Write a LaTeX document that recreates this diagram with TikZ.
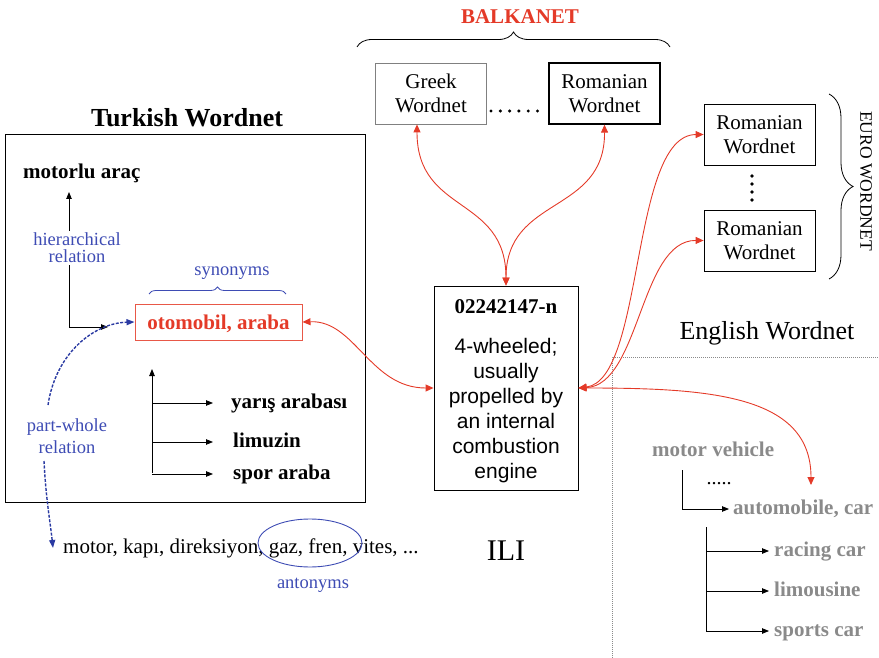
\documentclass[tikz,border=0pt]{standalone}
\usepackage{fontspec}
\setmainfont{Liberation Serif}
\newfontfamily\arialf{Liberation Sans}
\usetikzlibrary{arrows.meta,decorations.pathreplacing,shapes.geometric}
\definecolor{wred}{RGB}{228,58,40}
\definecolor{wblue}{RGB}{62,76,180}
\definecolor{dblue}{RGB}{42,58,162}
\definecolor{wgray}{RGB}{138,138,138}
\newcommand\fsA{\fontsize{21}{24}\selectfont}
\newcommand\fsB{\fontsize{18.5}{21}\selectfont}
\newcommand\fsT{\fontsize{26}{30}\selectfont}
\tikzset{
  box/.style={draw, line width=0.8pt, minimum width=111pt, minimum height=61pt, inner sep=0pt, align=center, font=\fsA},
  txt/.style={inner sep=0pt, anchor=west, text height=15pt, text depth=4.5pt},
  boldtxt/.style={txt, font=\fsA\bfseries},
  graytxt/.style={txt, font=\fsA\bfseries, text=wgray},
  redarr/.style={draw=wred, line width=0.9pt, {Triangle[length=8pt,width=7pt]}-{Triangle[length=8pt,width=7pt]}},
  blkarr/.style={line width=0.8pt, -{Triangle[length=7pt,width=5.5pt]}},
  bluedash/.style={draw=dblue, line width=1.4pt, dash pattern=on 3pt off 1.5pt, -{Triangle[length=8pt,width=6pt]}},
  bluelbl/.style={font=\fsB, text=wblue, align=center},
}
\begin{document}
\begin{tikzpicture}[x=1pt,y=-1pt]
\useasboundingbox (0,0) rectangle (879,658);

% ---------- BALKANET ----------
\node[font=\fsA\bfseries, text=wred] (balk) at (520,17) {BALKANET};
\draw[decorate,decoration={brace,amplitude=15pt}, line width=0.8pt] (357,47) -- (670,47);
\node[box, draw=gray] (greek) at (431,93.5) {Greek\\Wordnet};
\node[box, line width=1.3pt] (romtop) at (604.5,93.5) {Romanian\\Wordnet};
\foreach \i in {0,...,5} \fill (491+\i*9.3,111) circle (1.7pt);

% ---------- EURO WORDNET ----------
\node[box] (euro1) at (759.5,134.5) {Romanian\\Wordnet};
\node[box] (euro2) at (759.5,240.5) {Romanian\\Wordnet};
\foreach \i in {0,...,3} \fill (752,176+\i*8) circle (1.8pt);
\draw[decorate,decoration={brace,amplitude=24pt}, line width=0.8pt] (829,94) -- (829,279);
\node[rotate=-90, font=\fontsize{17.5}{20}\selectfont] (eurot) at (866,181) {EURO WORDNET};

% ---------- Turkish Wordnet ----------
\node[font=\fsT\bfseries] (turkt) at (187,118) {Turkish Wordnet};
\node[draw, line width=0.9pt, minimum width=360pt, minimum height=368pt, inner sep=0pt] (turkbox) at (185,318) {};
\node[boldtxt] (motorlu) at (23,173) {motorlu araç};
\coordinate (h0) at (69,327);
\coordinate (htop) at (69,192);
\coordinate (hend) at (108,327);
\draw[blkarr] (h0) -- (htop);
\node[bluelbl, font=\fontsize{18.5}{17}\selectfont, fill=white, inner sep=1.5pt] (hier) at (77,248) {hierarchical\\relation};
\draw[blkarr] (h0) -- (hend);

\node[bluelbl] (syn) at (232,273) {synonyms};
\draw[wblue, decorate, decoration={brace, amplitude=7pt}, line width=0.8pt] (149,294) -- (286,294);
\node[draw=wred!85, line width=1pt, minimum width=167pt, minimum height=36pt, inner sep=0pt, text height=14pt, text depth=0pt, text=wred, font=\fsA\bfseries] (oto) at (218.5,322) {otomobil, araba};

\node[boldtxt] (yaris) at (231,403) {yarış arabası};
\node[boldtxt] (limuzin) at (233,442) {limuzin};
\node[boldtxt] (spor) at (233,474) {spor araba};
\coordinate (sbot) at (152,473);
\coordinate (stop) at (152,369);
\draw[blkarr] (sbot) -- (stop);
\draw[blkarr] (sbot |- yaris.west) -- ([xshift=-18pt]yaris.west);
\draw[blkarr] (sbot |- limuzin.west) -- ([xshift=-20pt]limuzin.west);
\draw[blkarr] (sbot |- spor.west) -- ([xshift=-20pt]spor.west);

\node[bluelbl, font=\fontsize{18.5}{22}\selectfont] (pw) at (67,436) {part-whole\\relation};
\node[txt, font=\fsA] (parts) at (63,548) {motor, kapı, direksiyon, gaz, fren, vites, ...};
\coordinate (pwa) at (48,405);
\coordinate (pwb) at (44,461);
\draw[bluedash] (pwa) .. controls (56,352) and (95,323) .. (oto.west);
\draw[bluedash] (pwb) .. controls (46,500) and (50,520) .. ([xshift=-10pt]parts.west);

\node[draw=wblue, ellipse, line width=0.9pt, minimum width=104pt, minimum height=48pt] (antell) at (310,543) {};
\node[bluelbl] (anto) at (313,585) {antonyms};

% ---------- ILI ----------
\node[draw, line width=0.9pt, minimum width=144pt, minimum height=204pt, inner sep=0pt] (ili) at (506,388) {};
\node[font=\fsA\bfseries] (ilihead) at (506,307) {02242147-n};
\node[font=\arialf\fontsize{21}{25}\selectfont, align=center] (ilidef) at (506,411) {4-wheeled;\\usually\\propelled by\\an internal\\combustion\\engine};
\node[font=\fontsize{30}{34}\selectfont] (ililab) at (506,551) {ILI};

% ---------- English Wordnet ----------
\node[font=\fsT] (engt) at (767,333) {English Wordnet};
\draw[wgray, line width=0.7pt, dash pattern=on 1pt off 1pt] (612,658) -- (612,357) -- (879,357);
\node[graytxt] (mveh) at (652,451) {motor vehicle};
\node[graytxt] (auto) at (733,509) {automobile, car};
\coordinate (m0) at (682,470);
\draw[blkarr] (m0) -- (m0 |- auto.west) -- ([xshift=-4pt]auto.west);
\node[font=\fontsize{20}{22}\selectfont] (edots) at (719,484) {.....};
\node[graytxt] (racing) at (774,551) {racing car};
\node[graytxt] (limous) at (774,591) {limousine};
\node[graytxt] (sports) at (774,631) {sports car};
\coordinate (r0) at (706,527);
\draw[line width=0.8pt] (r0) -- (r0 |- sports.west);
\draw[blkarr] (r0 |- racing.west) -- ([xshift=-5pt]racing.west);
\draw[blkarr] (r0 |- limous.west) -- ([xshift=-5pt]limous.west);
\draw[blkarr] (r0 |- sports.west) -- ([xshift=-5pt]sports.west);
\coordinate (autotip) at (811,485);

% ---------- red links ----------
\draw[redarr] (oto.east) .. controls (355,320) and (370,388) .. (ili.west);
\draw[redarr] ([xshift=-14pt]greek.south) .. controls (417,215) and (506,195) .. (ili.north);
\draw[redarr] (romtop.south) .. controls (605,215) and (506,195) .. (ili.north);
\draw[redarr] (ili.east) .. controls (645,380) and (630,135) .. (euro1.west);
\draw[redarr] (ili.east) .. controls (640,385) and (640,240) .. (euro2.west);
\draw[redarr] (ili.east) .. controls (710,388) and (811,395) .. (autotip);
\end{tikzpicture}
\end{document}
